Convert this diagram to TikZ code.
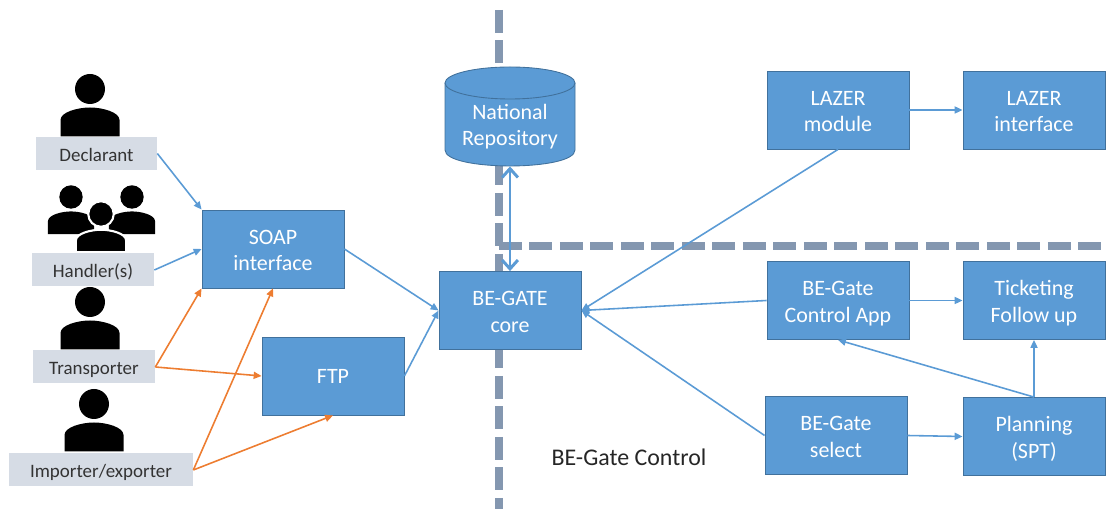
\documentclass[tikz,border=0pt]{standalone}
\usepackage{fontspec}
\setmainfont{Carlito}
\usetikzlibrary{arrows.meta}

\definecolor{boxblue}{HTML}{5B9BD5}
\definecolor{boxedge}{HTML}{41719C}
\definecolor{labelgrey}{HTML}{D6DCE5}
\definecolor{fence}{HTML}{8497B0}
\definecolor{flowblue}{HTML}{5B9BD5}
\definecolor{floworange}{HTML}{ED7D31}

\tikzset{
  bluebox/.style = {draw = boxedge, line width = 0.5pt, fill = boxblue, text = white, align = center,
    minimum width = 2.84cm, minimum height = 1.56cm, inner sep = 0pt,
    text height = 24.5pt, text depth = 0pt,
    font = \fontsize{12.5}{15}\selectfont},
  labelbox/.style = {fill = labelgrey, text = black!80, minimum height = 0.66cm, inner sep = 0pt,
    text height = 8.6pt, text depth = 0pt,
    font = \fontsize{10.8}{12}\selectfont},
  fenceline/.style = {fence, line width = 0.15cm, dash pattern = on 0.46cm off 0.15cm},
  blueflow/.style = {-{Triangle[length = 4.5pt, width = 4pt]}, flowblue, line width = 0.9pt},
  orangeflow/.style = {-{Triangle[length = 4.5pt, width = 4pt]}, floworange, line width = 0.9pt},
  person/.pic = {
    \fill[pic actions] (0, 0) circle[radius = 15];
    \fill[pic actions] (-29.5, 47.5) -- (-29.5, 31) .. controls (-29.5, 23) and (-12, 18.5) .. (0, 18.5)
      .. controls (12, 18.5) and (29.5, 23) .. (29.5, 31) -- (29.5, 47.5) -- cycle;
  }
}

\begin{document}
\begin{tikzpicture}[x = 0.02cm, y = -0.02cm]
  \useasboundingbox (0, 0) rectangle (1107, 509);

  % fences
  \draw[fenceline] (499, 10) -- (499, 509);
  \draw[fenceline] (499, 246) -- (1107, 246);

  % people
  \pic[black] at (90, 89) {person};
  \pic[black, scale = 0.78] at (71, 197) {person};
  \pic[black, scale = 0.78] at (132, 197) {person};
  \pic[black, scale = 0.85, draw = white, line width = 1.2pt] at (101, 214) {person};
  \fill[white] (40, 251.5) rectangle (160, 256);
  \pic[black] at (90, 302) {person};
  \pic[black] at (94, 404) {person};

  \node[labelbox, minimum width = 2.42cm] (declarant) at (96.5, 153.5) {Declarant};
  \node[labelbox, minimum width = 2.44cm] (handler) at (93, 270) {Handler(s)};
  \node[labelbox, minimum width = 2.44cm] (transporter) at (94, 367) {Transporter};
  \node[labelbox, minimum width = 3.68cm] (importer) at (101, 470) {Importer/exporter};

  \node[bluebox] (soap) at (273, 249) {SOAP\\interface};
  \node[bluebox, text height = 8pt] (ftp) at (333, 376) {FTP};
  \node[bluebox] (core) at (510, 310.5) {BE-GATE\\core};
  \node[bluebox] (lazermodule) at (838, 110) {LAZER\\module};
  \node[bluebox] (lazerinterface) at (1034, 110) {LAZER\\interface};
  \node[bluebox] (controlapp) at (838, 300.5) {BE-Gate\\Control App};
  \node[bluebox] (ticketing) at (1034, 300.5) {Ticketing\\Follow up};
  \node[bluebox] (select) at (836, 435.5) {BE-Gate\\select};
  \node[bluebox] (planning) at (1034, 436.5) {Planning\\(SPT)};

  % drum, its text sits in the node on top
  \def\drumtop{(510, 83) ellipse[x radius = 65, y radius = 16]}
  \fill[boxblue] (445, 83) -- (445, 150) .. controls (445, 171.3) and (575, 171.3) .. (575, 150) -- (575, 83) -- cycle;
  \draw[boxedge, line width = 0.5pt] (445, 83) -- (445, 150) .. controls (445, 171.3) and (575, 171.3) .. (575, 150) -- (575, 83);
  \draw[boxedge, fill = boxblue, line width = 0.5pt] \drumtop;
  \node[bluebox, draw = none, fill = none, minimum width = 2.6cm, minimum height = 1.96cm,
    text height = 33pt] (repository) at (510, 117) {National\\Repository};

  \node[font = \fontsize{13.6}{15}\selectfont, text = black!85] (control) at (629, 457) {BE-Gate Control};

  \draw[blueflow] (declarant.east) -- (soap.north west);
  \draw[blueflow] (handler.east) -- (soap.west);
  \draw[orangeflow] (transporter.east) -- (soap.south west);
  \draw[orangeflow] (transporter.east) -- (ftp.west);
  \draw[orangeflow] (importer.east) -- (soap.south);
  \draw[orangeflow] (importer.east) -- (ftp.south);
  \draw[blueflow] (soap.east) -- (core.west);
  \draw[blueflow] (ftp.east) -- (core.west);
  \draw[{Straight Barb[length = 5pt, width = 9pt]}-{Straight Barb[length = 5pt, width = 9pt]}, flowblue,
    line width = 1.7pt] (repository.south) -- (core.north);
  \draw[blueflow] (lazermodule.south) -- (core.east);
  \draw[blueflow] (lazermodule.east) -- (lazerinterface.west);
  \draw[blueflow] (controlapp.west) -- (core.east);
  \draw[blueflow] (select.west) -- (core.east);
  \draw[blueflow] (controlapp.east) -- (ticketing.west);
  \draw[blueflow] (select.east) -- (planning.west);
  \draw[blueflow] (planning.north) -- (ticketing.south);
  \draw[blueflow] (planning.north) -- (controlapp.south);
\end{tikzpicture}
\end{document}
